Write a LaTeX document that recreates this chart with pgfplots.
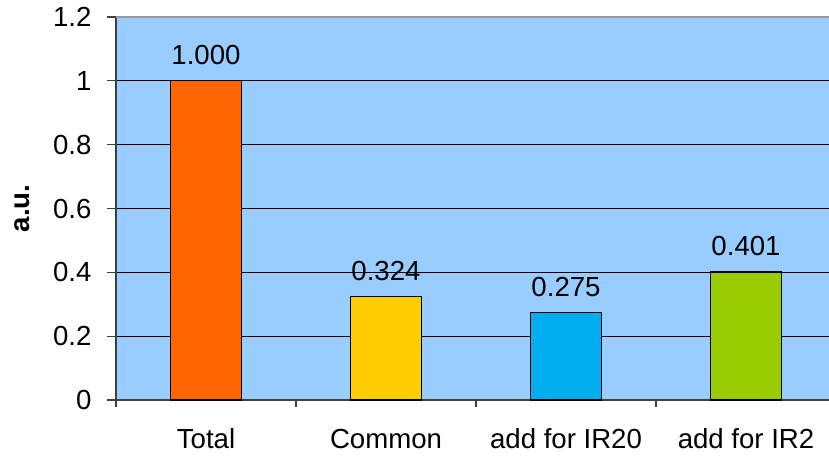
\documentclass[border=0pt]{standalone}
\usepackage{pgfplots}
\pgfplotsset{compat=1.18}
\usepackage{fontspec}
\setmainfont{Liberation Sans}
\definecolor{bgblue}{HTML}{99CCFF}
\definecolor{cOrange}{HTML}{FF6600}
\definecolor{cYellow}{HTML}{FFCC00}
\definecolor{cBlue}{HTML}{00AEEF}
\definecolor{cGreen}{HTML}{99CC00}
\begin{document}
\fontsize{13.8}{16}\selectfont
\begin{tikzpicture}
\begin{axis}[
  scale only axis,
  width=356.5pt, height=191.5pt,
  at={(0,0)}, anchor=south west,
  xmin=-0.5, xmax=3.461,
  ymin=0, ymax=1.2,
  axis x line=bottom, axis y line=left,
  axis line style={draw=black!75, line width=0.6pt, -},
  axis background/.style={fill=bgblue},
  /pgf/number format/assume math mode=true,
  ytick={0,0.2,...,1.2},
  yticklabels={0,0.2,0.4,0.6,0.8,1,1.2},
  ymajorgrids, y grid style={black, line width=0.6pt},
  xtick={0,1,2,3},
  xticklabels={Total,Common,add for IR20,add for IR2},
  x tick style={draw=none},
  extra x ticks={-0.5,0.5,1.5,2.5},
  extra x tick labels={},
  extra x tick style={x tick style={draw=black!75, line width=0.6pt}, major tick length=3.5pt, tick align=outside, xmajorgrids=false},
  y tick style={draw=black!75, line width=0.6pt},
  major tick length=4.5pt, tick align=outside,
  xticklabel style={anchor=north, text height=10pt, text depth=3pt, yshift=-5pt},
  yticklabel style={anchor=east, xshift=-3pt},
  ticklabel style={font=\fontsize{13.8}{16}\selectfont},
  ylabel={\textbf{a.u.}},
  ylabel style={at={(axis description cs:-0.132,0.5)}, anchor=center, font=\fontsize{13.8}{16}\selectfont},
  ybar, bar width=35.5pt, bar shift=0pt,
  nodes near coords={\pgfmathprintnumber[fixed,fixed zerofill,precision=3]{\pgfplotspointmeta}},
  nodes near coords style={font=\fontsize{13.8}{16}\selectfont, anchor=south, yshift=3pt},
  clip=false,
]
\addplot[fill=cOrange, draw=black, line width=0.6pt] coordinates {(0,1.000)};
\addplot[fill=cYellow, draw=black, line width=0.6pt] coordinates {(1,0.324)};
\addplot[fill=cBlue, draw=black, line width=0.6pt] coordinates {(2,0.275)};
\addplot[fill=cGreen, draw=black, line width=0.6pt] coordinates {(3,0.401)};
\draw[black!40, line width=0.8pt] (axis cs:-0.5,1.2) -- (axis cs:3.461,1.2);
\end{axis}
\pgfresetboundingbox
\path (-58pt,-28.5pt) rectangle (356.5pt,200pt);
\end{tikzpicture}
\end{document}
